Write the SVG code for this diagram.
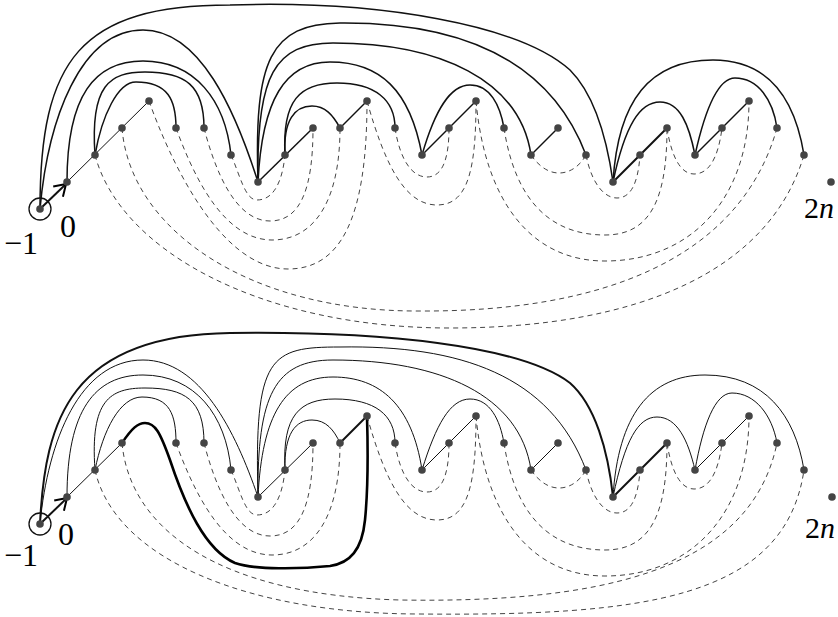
<svg xmlns="http://www.w3.org/2000/svg" width="838" height="617" viewBox="0 0 838 617">
<style>
.arc{fill:none;stroke:#111;stroke-width:1.5}
.arcb{fill:none;stroke:#111;stroke-width:1}
.thick{fill:none;stroke:#000;stroke-width:2.6}
.thk{fill:none;stroke:#111;stroke-width:2}
.ln{fill:none;stroke:#111;stroke-width:1.5}
.lnb{fill:none;stroke:#111;stroke-width:1}
.dash{fill:none;stroke:#444;stroke-width:1;stroke-dasharray:5 4}
.dot{fill:#444}
.lbl{font-family:"Liberation Serif","Times New Roman",serif;font-size:32px;fill:#000}
.lbl2{font-family:"Liberation Serif","Times New Roman",serif;font-size:30px;fill:#000}
.it{font-style:italic}
</style>
<defs>
<marker id="arr" markerUnits="userSpaceOnUse" markerWidth="20" markerHeight="20" refX="0" refY="0" viewBox="-14 -10 16 20" orient="auto">
<path d="M-11,-7 L0,0 L-11,7" fill="none" stroke="#000" stroke-width="2"/>
</marker>
</defs>
<g id="connectors">
<!-- top panel solid arcs -->
<path class="arc" d="M40,209 C40,60 80,5 230,5 C380,0 520,25 570,70 C595,95 607,140 613,182"/>
<path class="arc" d="M40,209 C48,120 80,30 143,30 C200,30 235,110 258,182"/>
<path class="arc" d="M67,182 C67,95 95,61 143,61 C195,61 225,100 231,155"/>
<path class="arc" d="M95,155 C90,85 110,72 145,72 C185,72 204,85 204,128"/>
<path class="arc" d="M95,155 C102,115 118,82 136,82 C168,82 176,100 176,128"/>
<path class="arc" d="M258,182 C254,60 270,24 340,23 C460,22 550,60 586,155"/>
<path class="arc" d="M258,182 C256,75 275,43 333,43 C440,43 520,80 531,155"/>
<path class="arc" d="M258,182 C262,100 285,62 330,62 C380,62 410,90 422,155"/>
<path class="arc" d="M285,155 C282,100 300,83 337,83 C375,83 395,100 395,128"/>
<path class="arc" d="M285,155 C283,120 295,106 312,106 C325,106 333,115 340,128"/>
<path class="arc" d="M422,155 C435,110 450,85 470,85 C490,85 500,105 504,128"/>
<path class="arc" d="M613,182 C618,100 650,60 713,60 C770,60 795,100 804,155"/>
<path class="arc" d="M613,182 C625,125 640,102 660,102 C680,102 689,125 695,155"/>
<path class="arc" d="M695,155 C705,110 718,78 735,78 C758,78 773,100 777,128"/>
<!-- top panel straight edges -->
<path class="thk" d="M40,209 L66,184" marker-end="url(#arr)"/>
<path class="lnb" d="M67,182 L149,101"/>
<path class="ln" d="M258,182 L313,128"/>
<path class="ln" d="M340,128 L367,101"/>
<path class="ln" d="M422,155 L476,101"/>
<path class="ln" d="M531,155 L558,128"/>
<path class="thk" d="M613,182 L667,128"/>
<path class="ln" d="M695,155 L749,101"/>
<!-- top panel dashed arcs -->
<path class="dash" d="M149,101 C170,160 220,269 288,269 C340,269 367,220 367,101"/>
<path class="dash" d="M122,128 C130,230 250,312 420,311 C600,312 740,260 777,128"/>
<path class="dash" d="M95,155 C120,250 260,328 450,328 C640,328 770,270 804,155"/>
<g id="dashedCommon">
<path class="dash" d="M231,155 C240,175 245,200 257,200 C272,200 282,185 285,155"/>
<path class="dash" d="M204,128 C215,170 235,221 270,221 C300,221 313,190 313,128"/>
<path class="dash" d="M176,128 C195,180 225,240 272,240 C315,240 340,200 340,128"/>
<path class="dash" d="M367,101 C385,165 405,205 437,205 C468,205 476,170 476,101"/>
<path class="dash" d="M395,128 C400,160 412,177 427,177 C442,177 449,160 449,128"/>
<path class="dash" d="M531,155 C540,168 550,173 559,173 C570,173 580,166 586,155"/>
<path class="dash" d="M586,155 C592,185 605,198 617,198 C630,198 638,185 640,155"/>
<path class="dash" d="M504,128 C515,200 550,235 605,235 C650,235 667,200 667,128"/>
<path class="dash" d="M476,101 C485,200 530,261 605,261 C690,261 749,200 749,101"/>
<path class="dash" d="M667,128 C672,160 682,174 694,174 C708,174 718,160 722,128"/>
</g>
<!-- bottom panel solid arcs -->
<path class="thk" d="M40,524 C45,420 70,335 230,333 C380,331 520,345 570,383 C595,405 608,450 613,497"/>
<path class="arcb" d="M40,524 C48,440 80,360 143,360 C200,360 235,430 258,497"/>
<path class="arcb" d="M67,497 C67,410 95,375 143,375 C195,375 226,415 231,470"/>
<path class="arcb" d="M95,470 C90,400 110,388 145,388 C185,388 204,400 204,443"/>
<path class="arcb" d="M95,470 C103,430 120,397 142,397 C170,397 176,415 176,443"/>
<path class="arcb" d="M258,497 C254,355 270,347 340,347 C460,345 550,375 586,470"/>
<path class="arcb" d="M258,497 C257,395 275,360 333,360 C440,360 520,395 531,470"/>
<path class="arcb" d="M258,497 C262,415 285,377 333,377 C380,377 412,405 422,470"/>
<path class="arcb" d="M285,470 C282,415 300,399 335,399 C375,399 395,415 395,443"/>
<path class="arcb" d="M285,470 C284,433 296,420 312,420 C326,420 334,430 340,443"/>
<path class="arcb" d="M422,470 C436,425 450,399 470,399 C490,399 500,420 504,443"/>
<path class="arcb" d="M613,497 C618,415 650,375 705,375 C765,375 795,415 804,470"/>
<path class="arcb" d="M613,497 C625,440 638,417 657,417 C677,417 688,440 695,470"/>
<path class="arcb" d="M695,470 C703,425 715,393 732,393 C755,393 772,415 777,443"/>
<path class="thick" d="M122,443 C132,428 138,423 145,423 C155,423 160,432 170,460 C185,505 205,550 235,563 C255,570 300,569 330,566 C350,563 362,550 365,520 C368,490 368,450 367,416"/>
<!-- bottom panel straight edges -->
<path class="thk" d="M40,524 L67,498" marker-end="url(#arr)"/>
<path class="lnb" d="M67,497 L122,443"/>
<path class="lnb" d="M258,497 L313,443"/>
<path class="thk" d="M340,443 L367,416"/>
<path class="lnb" d="M422,470 L476,416"/>
<path class="lnb" d="M531,470 L558,443"/>
<path class="thk" d="M613,497 L667,443"/>
<path class="lnb" d="M695,470 L749,416"/>
<!-- bottom panel dashed arcs -->
<use href="#dashedCommon" transform="translate(0,315)"/>
<path class="dash" d="M122,443 C130,530 220,595 400,600 C590,603 750,575 777,443"/>
<path class="dash" d="M95,470 C115,560 250,614 420,614 C640,616 785,600 804,470"/>
</g>
<!-- top panel nodes -->
<g id="t-nm1"><circle cx="40" cy="209" r="11" fill="none" stroke="#111" stroke-width="1.3"/><circle class="dot" cx="40" cy="209" r="3.8"/><text class="lbl" x="4" y="254">−1</text></g>
<g id="t-n0"><circle class="dot" cx="67" cy="182" r="3.8"/><text class="lbl" x="60" y="237">0</text></g>
<g id="t-n1"><circle class="dot" cx="95" cy="155" r="3.8"/></g>
<g id="t-n2"><circle class="dot" cx="122" cy="128" r="3.8"/></g>
<g id="t-n3"><circle class="dot" cx="149" cy="101" r="3.8"/></g>
<g id="t-n4"><circle class="dot" cx="176" cy="128" r="3.8"/></g>
<g id="t-n5"><circle class="dot" cx="204" cy="128" r="3.8"/></g>
<g id="t-n6"><circle class="dot" cx="231" cy="155" r="3.8"/></g>
<g id="t-n7"><circle class="dot" cx="258" cy="182" r="3.8"/></g>
<g id="t-n8"><circle class="dot" cx="285" cy="155" r="3.8"/></g>
<g id="t-n9"><circle class="dot" cx="313" cy="128" r="3.8"/></g>
<g id="t-n10"><circle class="dot" cx="340" cy="128" r="3.8"/></g>
<g id="t-n11"><circle class="dot" cx="367" cy="101" r="3.8"/></g>
<g id="t-n12"><circle class="dot" cx="395" cy="128" r="3.8"/></g>
<g id="t-n13"><circle class="dot" cx="422" cy="155" r="3.8"/></g>
<g id="t-n14"><circle class="dot" cx="449" cy="128" r="3.8"/></g>
<g id="t-n15"><circle class="dot" cx="476" cy="101" r="3.8"/></g>
<g id="t-n16"><circle class="dot" cx="504" cy="128" r="3.8"/></g>
<g id="t-n17"><circle class="dot" cx="531" cy="155" r="3.8"/></g>
<g id="t-n18"><circle class="dot" cx="558" cy="128" r="3.8"/></g>
<g id="t-n19"><circle class="dot" cx="586" cy="155" r="3.8"/></g>
<g id="t-n20"><circle class="dot" cx="613" cy="182" r="3.8"/></g>
<g id="t-n21"><circle class="dot" cx="640" cy="155" r="3.8"/></g>
<g id="t-n22"><circle class="dot" cx="667" cy="128" r="3.8"/></g>
<g id="t-n23"><circle class="dot" cx="695" cy="155" r="3.8"/></g>
<g id="t-n24"><circle class="dot" cx="722" cy="128" r="3.8"/></g>
<g id="t-n25"><circle class="dot" cx="749" cy="101" r="3.8"/></g>
<g id="t-n26"><circle class="dot" cx="777" cy="128" r="3.8"/></g>
<g id="t-n27"><circle class="dot" cx="804" cy="155" r="3.8"/></g>
<g id="t-n2n"><circle class="dot" cx="831" cy="182" r="3.8"/><text class="lbl2" x="804" y="218">2<tspan class="it">n</tspan></text></g>
<!-- bottom panel nodes -->
<g id="b-nm1"><circle cx="40" cy="524" r="11" fill="none" stroke="#111" stroke-width="1.3"/><circle class="dot" cx="40" cy="524" r="3.8"/><text class="lbl" x="4" y="566">−1</text></g>
<g id="b-n0"><circle class="dot" cx="67" cy="497" r="3.8"/><text class="lbl" x="58" y="545">0</text></g>
<g id="b-n1"><circle class="dot" cx="95" cy="470" r="3.8"/></g>
<g id="b-n2"><circle class="dot" cx="122" cy="443" r="3.8"/></g>
<g id="b-n4"><circle class="dot" cx="176" cy="443" r="3.8"/></g>
<g id="b-n5"><circle class="dot" cx="204" cy="443" r="3.8"/></g>
<g id="b-n6"><circle class="dot" cx="231" cy="470" r="3.8"/></g>
<g id="b-n7"><circle class="dot" cx="258" cy="497" r="3.8"/></g>
<g id="b-n8"><circle class="dot" cx="285" cy="470" r="3.8"/></g>
<g id="b-n9"><circle class="dot" cx="313" cy="443" r="3.8"/></g>
<g id="b-n10"><circle class="dot" cx="340" cy="443" r="3.8"/></g>
<g id="b-n11"><circle class="dot" cx="367" cy="416" r="3.8"/></g>
<g id="b-n12"><circle class="dot" cx="395" cy="443" r="3.8"/></g>
<g id="b-n13"><circle class="dot" cx="422" cy="470" r="3.8"/></g>
<g id="b-n14"><circle class="dot" cx="449" cy="443" r="3.8"/></g>
<g id="b-n15"><circle class="dot" cx="476" cy="416" r="3.8"/></g>
<g id="b-n16"><circle class="dot" cx="504" cy="443" r="3.8"/></g>
<g id="b-n17"><circle class="dot" cx="531" cy="470" r="3.8"/></g>
<g id="b-n18"><circle class="dot" cx="558" cy="443" r="3.8"/></g>
<g id="b-n19"><circle class="dot" cx="586" cy="470" r="3.8"/></g>
<g id="b-n20"><circle class="dot" cx="613" cy="497" r="3.8"/></g>
<g id="b-n21"><circle class="dot" cx="640" cy="470" r="3.8"/></g>
<g id="b-n22"><circle class="dot" cx="667" cy="443" r="3.8"/></g>
<g id="b-n23"><circle class="dot" cx="695" cy="470" r="3.8"/></g>
<g id="b-n24"><circle class="dot" cx="722" cy="443" r="3.8"/></g>
<g id="b-n25"><circle class="dot" cx="749" cy="416" r="3.8"/></g>
<g id="b-n26"><circle class="dot" cx="777" cy="443" r="3.8"/></g>
<g id="b-n27"><circle class="dot" cx="804" cy="470" r="3.8"/></g>
<g id="b-n2n"><circle class="dot" cx="832" cy="497" r="3.8"/><text class="lbl2" x="805" y="538">2<tspan class="it">n</tspan></text></g>
</svg>
